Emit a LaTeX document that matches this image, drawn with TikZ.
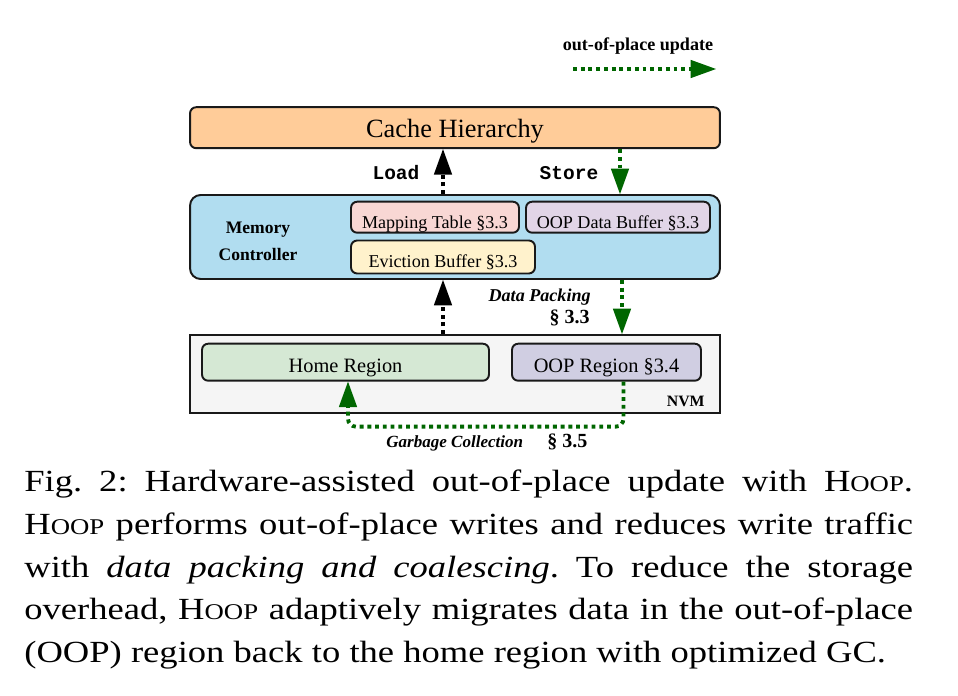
\documentclass[tikz,border=0pt]{standalone}
\usepackage{fontspec}
\usepackage{graphicx}
\setmainfont{Liberation Serif}
\setmonofont{Liberation Mono}
\usetikzlibrary{arrows.meta}

\definecolor{cachefill}{HTML}{FFCC99}
\definecolor{mcfill}{HTML}{B1DDF0}
\definecolor{mapfill}{HTML}{F8D7D4}
\definecolor{bufffill}{HTML}{E1D5E7}
\definecolor{evictfill}{HTML}{FFF2CC}
\definecolor{nvmfill}{HTML}{F5F5F5}
\definecolor{homefill}{HTML}{D5E8D4}
\definecolor{oopfill}{HTML}{D0CEE2}
\definecolor{oopgreen}{HTML}{006600}

\newcommand{\hoop}{H{\fontsize{12.8}{14}\selectfont OOP}}
\newcommand{\capline}[1]{\scalebox{1.19}[1]{\makebox[14.94cm][s]{#1}}}

\tikzset{
  box/.style={draw=black!90, line width=1.1pt, rounded corners=3.5pt, inner sep=0pt, text depth=0pt},
  bigbox/.style={box, minimum width=10.6cm},
  inbox/.style={box, text height=12.4pt, font=\fontsize{10.3}{12}\selectfont},
  region/.style={box, minimum height=0.74cm, text height=11.4pt, font=\fontsize{11.6}{13}\selectfont},
  flow/.style={line width=2.2pt, dash pattern=on 2.2pt off 2.2pt,
    -{Triangle[length=14.5pt,width=10.5pt,line width=0pt]}},
  oopflow/.style={flow, color=oopgreen},
  ldflow/.style={flow, color=black},
  bflab/.style={inner sep=0pt, font=\bfseries\fontsize{10.3}{12}\selectfont},
  bilab/.style={inner sep=0pt, font=\bfseries\itshape\fontsize{10.3}{12}\selectfont},
  seclab/.style={inner sep=0pt, font=\bfseries\fontsize{11.4}{13}\selectfont},
  ttlab/.style={inner sep=0pt, anchor=base, font=\ttfamily\bfseries\fontsize{11.1}{13}\selectfont},
  caplab/.style={anchor=base west, inner sep=0pt, font=\fontsize{17.5}{20}\selectfont\frenchspacing}
}

\begin{document}
\begin{tikzpicture}[x=0.02cm, y=-0.02cm]
  \useasboundingbox (0,0) rectangle (958,696);
  % legend
  \node[bflab, anchor=base] (legtxt) at (638,51) {out-of-place update};
  \coordinate (legs) at (573,69);
  \coordinate (lege) at (716,69);
  \draw[oopflow] (legs) -- (lege);
  % boxes
  \node[bigbox, fill=cachefill, minimum height=0.82cm, text height=10.8pt, font=\fontsize{15}{18}\selectfont] (cache) at (455,127.7) {Cache Hierarchy};
  \node[bigbox, fill=mcfill, minimum height=1.68cm, rounded corners=6pt] (mc) at (455,237) {};
  \node[bflab, align=center, font=\bfseries\fontsize{10}{15.3}\selectfont] (mctxt) at (258,241.5) {Memory\\Controller};
  \node[inbox, fill=mapfill, minimum width=3.36cm, minimum height=0.62cm] (map) at (435,217.2) {Mapping Table §3.3};
  \node[inbox, fill=bufffill, minimum width=3.68cm, minimum height=0.62cm] (oopbuf) at (618,217.2) {OOP Data Buffer §3.3};
  \node[inbox, fill=evictfill, minimum width=3.68cm, minimum height=0.66cm] (evict) at (443,257) {Eviction Buffer §3.3};
  \node[bigbox, fill=nvmfill, minimum height=1.56cm, rounded corners=0pt] (nvm) at (455,374) {};
  \node[region, fill=homefill, minimum width=5.74cm] (home) at (345.5,362.2) {Home Region};
  \node[region, fill=oopfill, minimum width=3.78cm] (oopreg) at (606.5,362.2) {OOP Region §3.4};
  \node[inner sep=0pt, anchor=base east, font=\bfseries\fontsize{9}{11}\selectfont] (nvmtxt) at (705,406) {NVM};
  % labels
  \node[ttlab] (ldtxt) at (396,180) {Load};
  \node[ttlab] (sttxt) at (569,180) {Store};
  \node[bilab, anchor=base east] (dptxt) at (591,301.7) {Data Packing};
  \node[seclab, anchor=base east] (dpsec) at (590,323.3) {§ 3.3};
  \node[bilab, anchor=base west, font=\bfseries\itshape\fontsize{9.7}{12}\selectfont] (gctxt) at (386,447.7) {Garbage Collection};
  \node[seclab, anchor=base west] (gcsec) at (547,447.5) {§ 3.5};
  % arrows
  \draw[ldflow] (mc.north -| evict.north) -- (cache.south -| evict.north);
  \draw[ldflow] (nvm.north -| evict.north) -- (mc.south -| evict.north);
  \draw[oopflow] ([xshift=0.04cm]cache.south -| oopbuf.south) -- ([xshift=0.04cm]mc.north -| oopbuf.north);
  \draw[oopflow] ([xshift=0.08cm]mc.south -| oopbuf.south) -- ([xshift=0.08cm]nvm.north -| oopbuf.south);
  \draw[oopflow, rounded corners=4.5pt] ([xshift=0.34cm]oopreg.south) -- ++(0,45) -| ([xshift=0.05cm]home.south);
  % caption
  \node[caplab] (cap1) at (24,491) {\capline{Fig.~2: Hardware-assisted out-of-place update with \hoop.}};
  \node[caplab] (cap2) at (24,534) {\capline{\hoop{} performs out-of-place writes and reduces write traffic}};
  \node[caplab] (cap3) at (24,577) {\capline{with \textit{data packing and coalescing}. To reduce the storage}};
  \node[caplab] (cap4) at (24,619) {\capline{overhead, \hoop{} adaptively migrates data in the out-of-place}};
  \node[caplab] (cap5) at (24,662) {\scalebox{1.19}[1]{(OOP) region back to the home region with optimized GC.}};
\end{tikzpicture}
\end{document}
